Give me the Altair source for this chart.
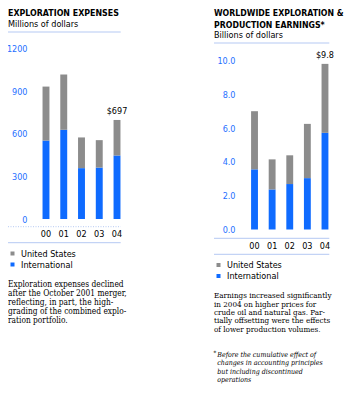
import altair as alt
import pandas as pd

years = ["00", "01", "02", "03", "04"]
series = ["United States", "International"]

exp_us = [380, 389, 216, 193, 250]
exp_intl = [552, 628, 358, 362, 447]
exp_ticks = [0, 300, 600, 900, 1200]
exp_label = "$697"

earn_us = [3.44, 1.78, 1.70, 3.21, 4.08]
earn_intl = [3.56, 2.37, 2.69, 3.04, 5.72]
earn_ticks = [0, 2, 4, 6, 8, 10]
earn_label = "$9.8"

BLUE = "#0f6bff"
GRAY = "#8c8c8c"
RULE = "#b5c9f3"
LBLUE = "#1f6fff"
SANS = "Liberation Sans Narrow, DejaVu Sans Condensed, sans-serif"
SERIF = "DejaVu Serif Condensed, Liberation Serif, serif"


def long(us, intl):
    rows = []
    for y, u, i in zip(years, us, intl):
        rows.append({"year": y, "series": "International", "value": i, "ord": 0})
        rows.append({"year": y, "series": "United States", "value": u, "ord": 1})
    return pd.DataFrame(rows)


def panel(us, intl, label, ticks, ymax, xr, yr, yoff, xoff, legx, legy, fmt):
    df = long(us, intl)
    xs = alt.Scale(domain=years, range=xr, paddingInner=0.61, paddingOuter=0.3)
    ys = alt.Scale(domain=[0, ymax], range=yr, nice=False, zero=True)
    yax = alt.Axis(orient="left", offset=yoff, values=ticks, format=fmt, domain=False,
                   ticks=False, tickSize=0, grid=False, labelPadding=2, labelFont=SANS,
                   labelFontSize=9, labelColor=LBLUE, title=None)
    xax = alt.Axis(orient="bottom", offset=xoff, domain=False, ticks=False, tickSize=0,
                   grid=False, labelPadding=0, labelAngle=0, labelFont=SANS,
                   labelFontSize=9, labelColor="#000", title=None)
    color = alt.Color(
        "series:N",
        scale=alt.Scale(domain=series, range=[GRAY, BLUE]),
        legend=alt.Legend(orient="none", legendX=legx, legendY=legy, title=None,
                          symbolType="square", symbolSize=16, symbolStrokeWidth=0,
                          symbolOpacity=1, labelFont=SANS, labelFontSize=9,
                          labelColor="#000", labelOffset=4, rowPadding=1, padding=0),
    )
    bars = alt.Chart(df).mark_bar().encode(
        x=alt.X("year:N", scale=xs, axis=xax),
        y=alt.Y("value:Q", stack="zero", scale=ys, axis=yax),
        color=color,
        order=alt.Order("ord:Q", sort="ascending"),
    )
    ldf = pd.DataFrame({"year": [years[-1]], "total": [us[-1] + intl[-1]], "label": [label]})
    lbl = alt.Chart(ldf).mark_text(dy=-9, baseline="middle", align="center", font=SANS,
                                   fontSize=9, color="#000").encode(
        x=alt.X("year:N", scale=xs, axis=xax),
        y=alt.Y("total:Q", scale=ys, axis=yax),
        text="label:N",
    )
    return alt.layer(bars, lbl)


def hrule(x1, x2, y, dash=None):
    kw = dict(color=RULE, strokeWidth=1)
    if dash is not None:
        kw["strokeDash"] = dash
    return alt.Chart(alt.Data(values=[{}])).mark_rule(**kw).encode(
        x=alt.value(x1), x2=alt.value(x2), y=alt.value(y))


def txt(s, x, y, size, font, weight="normal", style="normal", lh=None):
    kw = dict(align="left", baseline="alphabetic", font=font, fontSize=size,
              fontWeight=weight, fontStyle=style, lineBreak="\n", color="#000")
    if lh is not None:
        kw["lineHeight"] = lh
    return alt.Chart(alt.Data(values=[{}])).mark_text(**kw).encode(
        x=alt.value(x), y=alt.value(y), text=alt.value(s))


H = 377
left = panel(exp_us, exp_intl, exp_label, exp_ticks, 1200,
             [29.2, 117.8], [211, 40.5], -21, 221.6 - H, 0, 241, "d")
right = panel(earn_us, earn_intl, earn_label, earn_ticks, 10,
              [237.8, 325.7], [221.5, 52.5], -229, 233.6 - H, 206, 252.5, ".1f")

decor = [
    hrule(0, 112.7, 24),
    hrule(0, 112.7, 218.7, [1, 1.5]),
    hrule(0, 112.7, 234.7),
    hrule(206, 321.3, 35),
    hrule(206, 321.3, 230.3),
    hrule(206, 321.3, 246.3),
    txt("EXPLORATION EXPENSES", 0, 7.5, 8.8, SANS, weight="bold"),
    txt("Millions of dollars", 0, 19, 9, SANS),
    txt("WORLDWIDE EXPLORATION &\nPRODUCTION EARNINGS*", 206, 7.5, 8.7, SANS, weight="bold", lh=12),
    txt("Billions of dollars", 206, 30.3, 9, SANS),
    txt("Exploration expenses declined\nafter the October 2001 merger,\nreflecting, in part, the high-\n"
        "grading of the combined explo-\nration portfolio.", 0, 278.9, 8.3, SERIF, lh=9),
    txt("Earnings increased significantly\nin 2004 on higher prices for\ncrude oil and natural gas. Par-\n"
        "tially offsetting were the effects\nof lower production volumes.", 206, 290.4, 8.0, SERIF, lh=8.35),
    txt("*", 205.5, 347, 6, SERIF, style="italic"),
    txt("Before the cumulative effect of\nchanges in accounting principles\nbut including discontinued\n"
        "operations", 209.3, 348.5, 7.0, SERIF, style="italic", lh=8.6),
]

chart = alt.layer(left, right, *decor).resolve_scale(
    x="independent", y="independent", color="independent"
).properties(
    width=340, height=H, padding=0,
    autosize=alt.AutoSizeParams(type="none"),
).configure_view(stroke=None)

chart.save("out.html", embed_options={"renderer": "svg", "actions": False})
